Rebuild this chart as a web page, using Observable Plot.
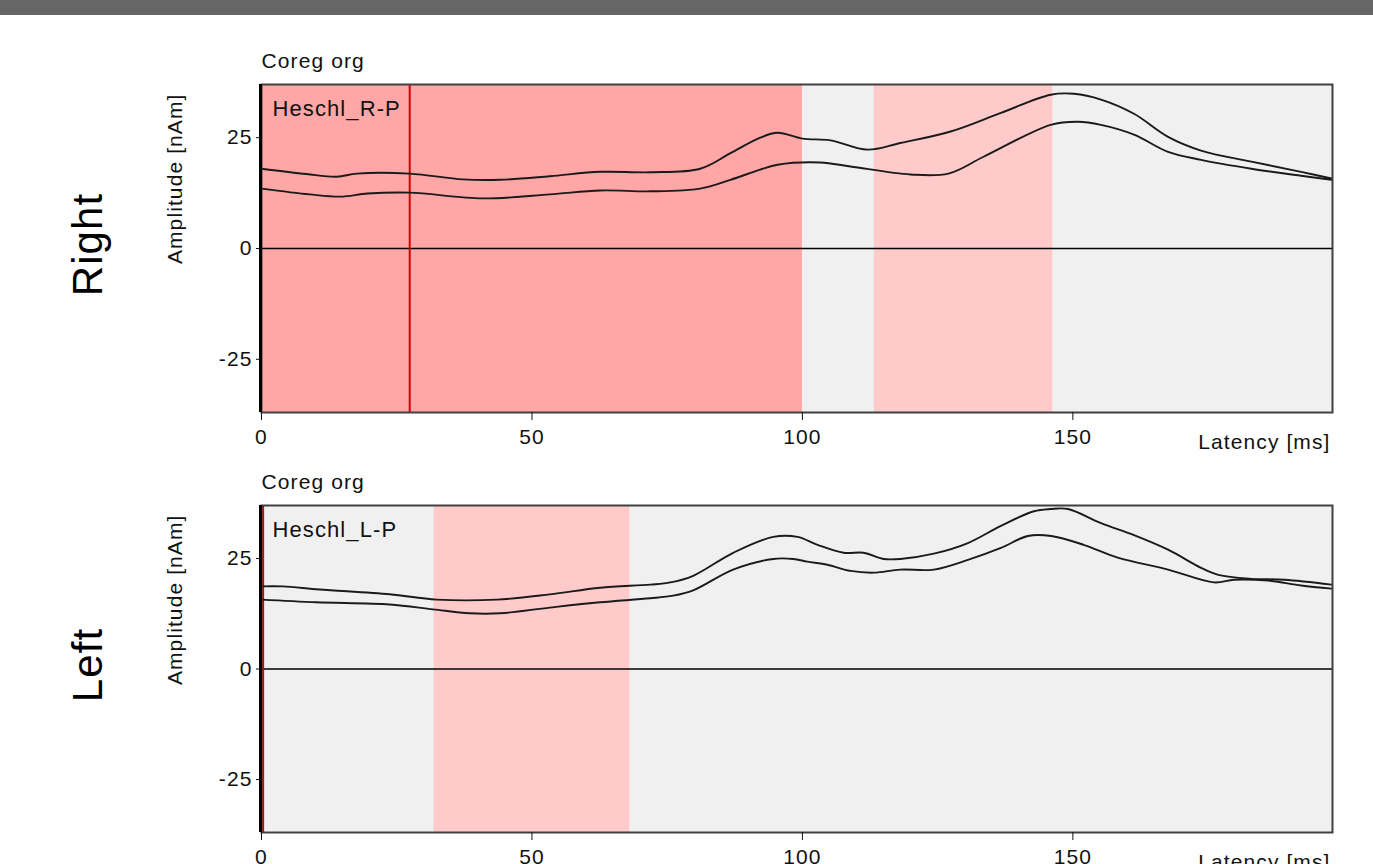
<!DOCTYPE html>
<html>
<head>
<meta charset="utf-8">
<script src="https://cdn.jsdelivr.net/npm/d3@7"></script>
<script src="https://cdn.jsdelivr.net/npm/@observablehq/plot@0.6"></script>
<style>
  html, body { margin: 0; padding: 0; background: #fff; }
  #page { position: relative; width: 1373px; height: 864px; overflow: hidden; background: #fff; }
  #topbar { position: absolute; left: 0; top: 0; width: 1373px; height: 15px; background: #666666; }
  .panel { position: absolute; left: 0; }
</style>
</head>
<body>
<div id="page">
  <div id="topbar"></div>
  <div id="p1" class="panel" style="top:40px"></div>
  <div id="p2" class="panel" style="top:461px"></div>
</div>
<script>
// ---- shared axes ----
const xDomain = [0, 198];
const yDomain = [-37, 37];
const xTicks = [0, 50, 100, 150];
const yTicks = [-25, 0, 25];
const xLabel = "Latency [ms]";
const yLabel = "Amplitude [nAm]";
const topLabel = "Coreg org";

// ---- panel "Right" ----
const rightSide = "Right";
const rightSource = "Heschl_R-P";
const rightBandStart = [0, 113.3];
const rightBandEnd = [100, 146.3];
const rightBandKind = ["strong", "light"];
const rightCursor = [27.4];
const rightUpperLatency = [0, 8.3, 13.9, 17.6, 27.4, 37.2, 44.1, 53.3, 62.6, 71.9, 81.1, 86.7, 92.2, 95.4, 100, 105.2, 112, 118.1, 127.4, 136.7, 145.9, 150.2, 155.2, 161.3, 167.6, 173.7, 183, 192.2, 197.8];
const rightUpperAmp     = [18.0, 16.8, 16.2, 16.9, 16.9, 15.6, 15.5, 16.3, 17.3, 17.2, 18.0, 21.5, 25.0, 26.1, 24.8, 24.4, 22.3, 23.8, 26.4, 30.6, 34.7, 34.9, 33.6, 30.4, 25.2, 22.1, 19.6, 17.3, 15.8];
const rightLowerLatency = [0, 8.9, 14.6, 19.6, 27.4, 40.9, 53.3, 62.6, 71.9, 81.1, 86.7, 92.2, 95.4, 103.3, 108.9, 120, 127, 133.5, 145.9, 150.9, 155.2, 161.3, 167.6, 173.7, 183, 192.2, 197.8];
const rightLowerAmp     = [13.5, 12.2, 11.7, 12.4, 12.6, 11.3, 12.2, 13.1, 12.9, 13.5, 15.5, 17.8, 18.9, 19.4, 18.5, 16.7, 16.9, 20.7, 27.9, 28.6, 27.9, 25.7, 21.8, 20.0, 18.0, 16.4, 15.5];

// ---- panel "Left" ----
const leftSide = "Left";
const leftSource = "Heschl_L-P";
const leftBandStart = [31.9];
const leftBandEnd = [68.1];
const leftBandKind = ["light"];
const leftCursor = [0.3];
const leftUpperLatency = [0, 3.9, 10.7, 23.7, 32.4, 43.5, 53.3, 62.6, 71.9, 75.6, 79.8, 87.2, 94.6, 99.1, 102.8, 107.6, 111.3, 115, 118.1, 124.3, 130.6, 136.7, 142.8, 145.9, 149.1, 155.2, 161.3, 167.6, 173.7, 176.9, 183, 189.1, 197.8];
const leftUpperAmp     = [18.7, 18.7, 18.0, 16.9, 15.7, 15.7, 16.9, 18.4, 19.1, 19.6, 21.1, 26.3, 29.9, 29.9, 28.1, 26.3, 26.3, 24.9, 24.9, 26.1, 28.5, 32.4, 35.7, 36.2, 36.2, 33.0, 30.3, 27.0, 22.9, 21.3, 20.4, 20.2, 19.1];
const leftLowerLatency = [0, 10.1, 23.7, 31.7, 38.5, 44.1, 53.3, 62.6, 71.9, 76.1, 79.8, 87.2, 94.6, 98.3, 100.9, 104.6, 108.9, 113.2, 118.1, 124.3, 130.6, 136.7, 141.7, 146, 152, 158.3, 167.6, 176.1, 179.8, 186.1, 192.2, 197.8];
const leftLowerAmp     = [15.7, 15.1, 14.6, 13.5, 12.6, 12.6, 13.9, 15.1, 16.0, 16.6, 17.8, 22.5, 24.9, 24.9, 24.3, 23.6, 22.2, 21.8, 22.5, 22.5, 24.7, 27.4, 30.1, 30.1, 28.1, 25.2, 22.5, 19.6, 20.2, 20.0, 18.9, 18.2];

const bandColors = {strong: "#ffa6a6", light: "#ffcaca"};
const font = "'Liberation Sans', Arial, sans-serif";

function zip(xs, ys) { return xs.map((x, i) => ({x, y: ys[i]})); }

function panel({side, source, bandStart, bandEnd, bandKind, cursor, upper, lower, height, marginBottom}) {
  const bands = bandStart.map((s, i) => ({x1: s, x2: bandEnd[i], kind: bandKind[i]}));
  return Plot.plot({
    width: 1373,
    height,
    marginTop: 44,
    marginBottom,
    marginLeft: 261,
    marginRight: 41,
    style: `font-family: ${font}; font-size: 21px; letter-spacing: 1.1px; background: transparent; color: #111; overflow: visible;`,
    x: {domain: xDomain, label: null},
    y: {domain: yDomain, label: null},
    marks: [
      Plot.frame({fill: "#f0f0f0"}),
      Plot.rect(bands, {x1: "x1", x2: "x2", y1: () => yDomain[0], y2: () => yDomain[1], fill: d => bandColors[d.kind]}),
      Plot.ruleY([0], {stroke: "#000", strokeWidth: 1.5}),
      Plot.ruleX(cursor, {stroke: "#d40000", strokeWidth: 2}),
      Plot.line(upper, {x: "x", y: "y", stroke: "#1a1a1a", strokeWidth: 1.9, curve: "catmull-rom"}),
      Plot.line(lower, {x: "x", y: "y", stroke: "#1a1a1a", strokeWidth: 1.9, curve: "catmull-rom"}),
      Plot.frame({stroke: "#404040", strokeWidth: 2}),
      Plot.ruleX([xDomain[0]], {stroke: "#000", strokeWidth: 3, dx: -1}),
      Plot.axisX({ticks: xTicks, tickSize: 8, tickPadding: 9, tickFormat: d => String(d), label: null}),
      Plot.axisY({ticks: yTicks, tickSize: 5, tickPadding: 4, tickFormat: d => String(d), label: null}),
      Plot.text([topLabel], {frameAnchor: "top-left", text: d => d, textAnchor: "start", lineAnchor: "middle", dy: -23, fontSize: 21}),
      Plot.text([source], {frameAnchor: "top-left", text: d => d, textAnchor: "start", lineAnchor: "middle", dx: 11, dy: 24, fontSize: 22}),
      Plot.text([xLabel], {frameAnchor: "bottom-right", text: d => d, textAnchor: "end", lineAnchor: "middle", dx: -2, dy: 30, fontSize: 21}),
      Plot.text([yLabel], {frameAnchor: "top-left", text: d => d, textAnchor: "end", lineAnchor: "middle", rotate: -90, dx: -86, dy: 9, fontSize: 21}),
      Plot.text([side], {frameAnchor: "left", text: d => d, textAnchor: "middle", lineAnchor: "middle", rotate: -90, dx: -173, dy: -4, fontSize: 42, fill: "#000", style: "letter-spacing:0"})
    ]
  });
}

document.getElementById("p1").appendChild(panel({
  side: rightSide, source: rightSource,
  bandStart: rightBandStart, bandEnd: rightBandEnd, bandKind: rightBandKind,
  cursor: rightCursor,
  upper: zip(rightUpperLatency, rightUpperAmp),
  lower: zip(rightLowerLatency, rightLowerAmp),
  height: 412, marginBottom: 40
}));
document.getElementById("p2").appendChild(panel({
  side: leftSide, source: leftSource,
  bandStart: leftBandStart, bandEnd: leftBandEnd, bandKind: leftBandKind,
  cursor: leftCursor,
  upper: zip(leftUpperLatency, leftUpperAmp),
  lower: zip(leftLowerLatency, leftLowerAmp),
  height: 403, marginBottom: 32
}));
</script>
</body>
</html>
